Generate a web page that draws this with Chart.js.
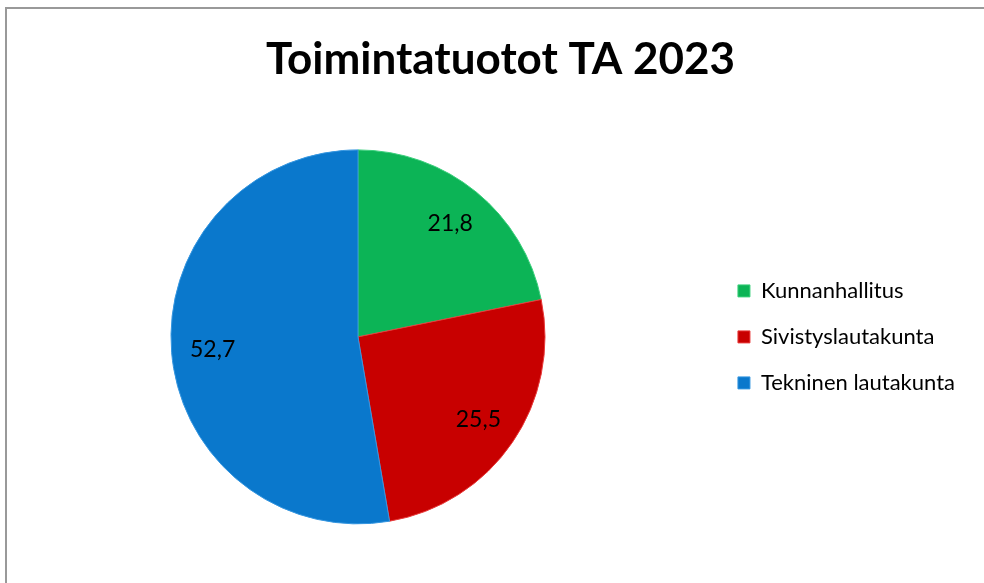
<!DOCTYPE html>
<html>
<head>
<meta charset="utf-8">
<script src="https://cdn.jsdelivr.net/npm/chart.js@4"></script>
<style>
    body { margin: 0; background: #fff; }
    #wrap { position: relative; width: 984px; height: 583px; overflow: hidden; }
    #frame { position: absolute; left: 5px; top: 7px; right: -5px; bottom: -5px;
             border-top: 2px solid #999; border-left: 2px solid #999; }
    canvas { position: absolute; left: 0; top: 0; }
</style>
</head>
<body>
<div id="wrap">
    <div id="frame"></div>
    <canvas id="pie" width="984" height="583"></canvas>
</div>
<script>
const chartTitle = 'Toimintatuotot TA 2023';
const categories = ['Kunnanhallitus', 'Sivistyslautakunta', 'Tekninen lautakunta'];
const values = [21.8, 25.5, 52.7];
const sliceColors = ['#0cb456', '#c80000', '#0a78cc'];
const sliceEdges = ['#3ccf7c', '#e83a3a', '#3596e0'];

// empty box between pie and legend, pushes the pie to the left
const legendGap = {
    id: 'legendGap',
    beforeInit(chart) {
        Chart.layouts.addBox(chart, {
            position: 'right',
            weight: 500,
            fullSize: false,
            options: { stackWeight: 1 },
            isHorizontal() { return false; },
            update(maxWidth, maxHeight) {
                this.width = 34;
                this.height = maxHeight;
            },
            draw() {}
        });
    }
};

// values on the slices, finnish decimal comma
const sliceLabels = {
    id: 'sliceLabels',
    afterDatasetsDraw(chart) {
        const ctx = chart.ctx;
        const meta = chart.getDatasetMeta(0);
        ctx.save();
        ctx.font = '23px Lato';
        ctx.fillStyle = '#000';
        ctx.textAlign = 'center';
        ctx.textBaseline = 'middle';
        meta.data.forEach(function (arc, i) {
            const p = arc.getProps(['x', 'y', 'startAngle', 'endAngle', 'outerRadius'], true);
            const mid = (p.startAngle + p.endAngle) / 2;
            const r = p.outerRadius * 0.78;
            const text = values[i].toFixed(1).replace('.', ',');
            ctx.fillText(text, p.x + Math.cos(mid) * r, p.y + Math.sin(mid) * r);
        });
        ctx.restore();
    }
};

new Chart(document.getElementById('pie'), {
    type: 'pie',
    data: {
        labels: categories,
        datasets: [{
            data: values,
            backgroundColor: sliceColors,
            borderColor: sliceEdges,
            borderWidth: 1
        }]
    },
    options: {
        responsive: false,
        animation: false,
        radius: 187,
        layout: { padding: { left: 36, right: 19, top: 0, bottom: 59 } },
        plugins: {
            title: {
                display: true,
                text: chartTitle,
                color: '#000',
                font: { family: 'Lato', size: 44, weight: 'bold' },
                padding: { top: 33, bottom: 64 }
            },
            legend: {
                position: 'right',
                fullSize: false,
                maxWidth: 320,
                labels: {
                    boxWidth: 12,
                    boxHeight: 12,
                    padding: 24,
                    color: '#000',
                    font: { family: 'Lato', size: 22 }
                }
            },
            tooltip: { enabled: false }
        }
    },
    plugins: [legendGap, sliceLabels]
});
</script>
</body>
</html>
